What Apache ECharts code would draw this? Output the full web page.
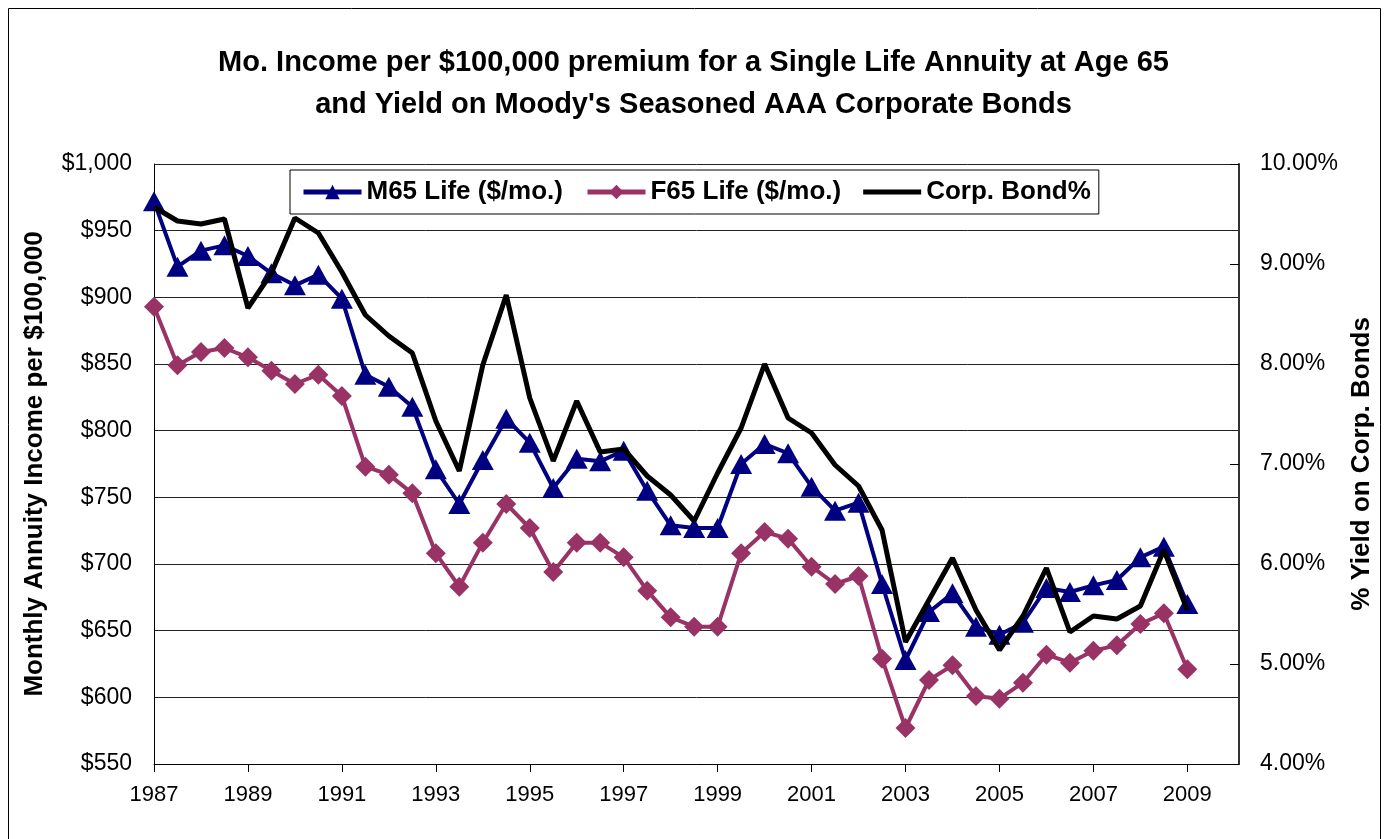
<!DOCTYPE html>
<html>
<head>
<meta charset="utf-8">
<script src="https://cdn.jsdelivr.net/npm/echarts@6/dist/echarts.min.js"></script>
<style>
  html, body { margin: 0; padding: 0; background: #fff; }
  #main { width: 1387px; height: 839px; }
</style>
</head>
<body>
<div id="main"></div>
<script>
// half-year points
var years = [1987, 1987.5, 1988, 1988.5, 1989, 1989.5, 1990, 1990.5, 1991, 1991.5,
  1992, 1992.5, 1993, 1993.5, 1994, 1994.5, 1995, 1995.5, 1996, 1996.5,
  1997, 1997.5, 1998, 1998.5, 1999, 1999.5, 2000, 2000.5, 2001, 2001.5,
  2002, 2002.5, 2003, 2003.5, 2004, 2004.5, 2005, 2005.5, 2006, 2006.5,
  2007, 2007.5, 2008, 2008.5, 2009];

var m65 = [972, 923, 935, 939, 931, 918, 909, 917, 899, 842,
  833, 818, 771, 745, 778, 809, 791, 757, 779, 777,
  785, 755, 729, 727, 727, 775, 790, 783, 758, 740,
  746, 685, 628, 664, 678, 653, 647, 656, 682, 679,
  684, 688, 705, 713, 670];

var f65 = [893, 849, 859, 862, 855, 845, 835, 842, 826, 773,
  767, 753, 708, 683, 716, 745, 727, 694, 716, 716,
  705, 680, 660, 653, 653, 708, 724, 719, 698, 685,
  691, 629, 577, 613, 624, 601, 599, 611, 632, 626,
  635, 639, 655, 663, 621];

var bond = [9.57, 9.43, 9.40, 9.45, 8.56, 8.91, 9.46, 9.31, 8.92, 8.49,
  8.28, 8.11, 7.43, 6.93, 7.99, 8.69, 7.66, 7.03, 7.63, 7.12,
  7.15, 6.88, 6.69, 6.43, 6.91, 7.36, 8.00, 7.46, 7.31, 6.99,
  6.78, 6.34, 5.22, 5.64, 6.06, 5.54, 5.14, 5.48, 5.96, 5.32,
  5.48, 5.45, 5.58, 6.14, 5.54];

var baseYear = 1987; // x axis counted from here so ticks land on odd years
var fontFam = 'Liberation Sans, Arial, sans-serif';

function pairs(vals) {
  var out = [];
  for (var i = 0; i < years.length; i++) {
    out.push([years[i] - baseYear, vals[i]]);
  }
  return out;
}

var myChart = echarts.init(document.getElementById('main'), null, { renderer: 'canvas' });

var option = {
  animation: false,
  backgroundColor: '#fff',
  textStyle: { fontFamily: fontFam },
  title: {
    text: 'Mo. Income per $100,000 premium for a Single Life Annuity at Age 65\nand Yield on Moody\'s Seasoned AAA Corporate Bonds',
    left: 'center',
    top: 37,
    textStyle: {
      fontFamily: fontFam,
      fontSize: 29,
      fontWeight: 'bold',
      color: '#000',
      lineHeight: 42
    }
  },
  graphic: [{
    type: 'rect',
    shape: { x: 8.5, y: 8.5, width: 1372, height: 840 },
    style: { fill: 'none', stroke: '#000', lineWidth: 1 },
    silent: true,
    z: -1
  }],
  legend: {
    left: 290,
    top: 170,
    padding: [9, 8, 9, 11],
    itemGap: 22,
    itemWidth: 58,
    itemHeight: 18,
    backgroundColor: '#fff',
    borderColor: '#000',
    borderWidth: 1,
    borderRadius: 0,
    lineStyle: { width: 5 },
    textStyle: {
      fontFamily: fontFam,
      fontSize: 26,
      fontWeight: 'bold',
      color: '#000'
    },
    data: [
      { name: 'M65 Life ($/mo.)' },
      { name: 'F65 Life ($/mo.)' },
      { name: 'Corp. Bond%', icon: 'path://M0,0H60V5H0Z' }
    ]
  },
  grid: {
    left: 154,
    right: 148,
    top: 164,
    bottom: 75,
    containLabel: false
  },
  xAxis: {
    type: 'value',
    min: 0,
    max: 23.1,
    interval: 2,
    axisLine: { show: true, lineStyle: { color: '#000', width: 1 } },
    axisTick: { show: true, inside: false, length: 8, lineStyle: { color: '#000' } },
    splitLine: { show: false },
    axisLabel: {
      showMaxLabel: false,
      fontSize: 22,
      color: '#000',
      margin: 20,
      formatter: function(v) { return String(baseYear + v); }
    }
  },
  yAxis: [{
    type: 'value',
    min: 550,
    max: 1000,
    interval: 50,
    name: 'Monthly Annuity Income per $100,000',
    nameLocation: 'middle',
    nameGap: 106,
    nameTextStyle: { fontFamily: fontFam, fontSize: 26, fontWeight: 'bold', color: '#000' },
    axisLine: { show: true, lineStyle: { color: '#000', width: 1 } },
    axisTick: { show: false },
    splitLine: { show: true, lineStyle: { color: '#222', width: 1 } },
    axisLabel: {
      fontSize: 23,
      color: '#000',
      margin: 22,
      formatter: function(v) {
        return '$' + (v >= 1000 ? '1,' + String(v).slice(1) : v);
      }
    }
  }, {
    type: 'value',
    min: 4,
    max: 10,
    interval: 1,
    name: '% Yield on Corp. Bonds',
    nameLocation: 'middle',
    nameGap: 108,
    nameRotate: 90,
    nameTextStyle: { fontFamily: fontFam, fontSize: 26, fontWeight: 'bold', color: '#000' },
    axisLine: { show: true, lineStyle: { color: '#333', width: 2 } },
    axisTick: { show: true, inside: true, length: 9, lineStyle: { color: '#000' } },
    splitLine: { show: false },
    axisLabel: {
      fontSize: 23,
      color: '#000',
      margin: 21,
      formatter: function(v) { return v.toFixed(2) + '%'; }
    }
  }],
  series: [{
    name: 'M65 Life ($/mo.)',
    type: 'line',
    yAxisIndex: 0,
    data: pairs(m65),
    symbol: 'triangle',
    symbolSize: [22, 20],
    showAllSymbol: true,
    color: '#000080',
    lineStyle: { color: '#000080', width: 4 },
    itemStyle: { color: '#000080' },
    z: 3
  }, {
    name: 'F65 Life ($/mo.)',
    type: 'line',
    yAxisIndex: 0,
    data: pairs(f65),
    symbol: 'diamond',
    symbolSize: [20, 20],
    showAllSymbol: true,
    color: '#993366',
    lineStyle: { color: '#993366', width: 4 },
    itemStyle: { color: '#993366' },
    z: 3
  }, {
    name: 'Corp. Bond%',
    type: 'line',
    yAxisIndex: 1,
    data: pairs(bond),
    symbol: 'none',
    color: '#000',
    lineStyle: { color: '#000', width: 5 },
    z: 4
  }]
};

myChart.setOption(option);
</script>
</body>
</html>
